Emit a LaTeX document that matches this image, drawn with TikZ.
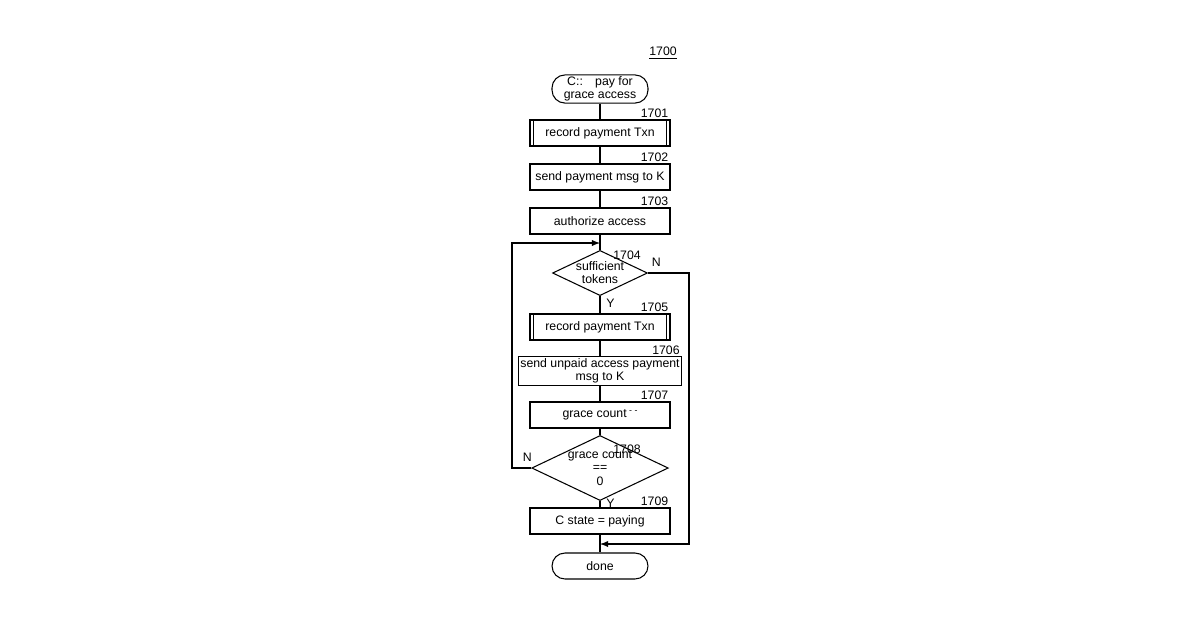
\documentclass[tikz,border=0pt]{standalone}
\usepackage{fontspec}
\setmainfont{Liberation Sans}
\usetikzlibrary{positioning,shapes.geometric,arrows}

\tikzset{
  txt/.style={font=\fontsize{7}{7.5}\selectfont},
  term/.style={txt,draw,rounded corners=0.26cm,minimum width=1.92cm,minimum height=0.52cm,align=center,inner sep=1pt},
  proc/.style={txt,draw,minimum width=2.8cm,minimum height=0.52cm,align=center,inner sep=1pt},
  dec/.style={txt,draw,diamond,aspect=2.1,minimum width=1.76cm,minimum height=0.84cm,align=center,inner sep=0pt},
  ref/.style={txt,anchor=south east,inner sep=1pt}
}

\begin{document}
\begin{tikzpicture}[x=0.02cm,y=-0.02cm,line width=0.6pt]
\useasboundingbox (0,0) rectangle (1200,630);

\node[txt] (fig) at (663,53) {\underline{1700}};

\node[term] (start) at (600,89) {C::\quad pay for\\grace access};
\node[proc] (s1) at (600,133) {record payment Txn};
\draw (s1.north west) ++(4,0) -- ++(0,26);
\draw (s1.north east) ++(-4,0) -- ++(0,26);
\node[proc] (s2) at (600,177) {send payment msg to K};
\node[proc] (s3) at (600,221) {authorize access};
\node[dec] (d1) at (600,273) {sufficient\\tokens};
\node[proc] (s5) at (600,327) {record payment Txn};
\draw (s5.north west) ++(4,0) -- ++(0,26);
\draw (s5.north east) ++(-4,0) -- ++(0,26);
\node[proc] (s6) at (600,371) {send unpaid access payment\\msg to K};
\node[proc] (s7) at (600,415) {grace count\raisebox{0.6ex}{\tiny{} - -}};
\node[dec] (d2) at (600,468) {grace count\\==\\0};
\node[proc] (s9) at (600,521) {C state = paying};
\node[term] (done) at (600,566) {done};

\node[ref] at (s1.north east) {1701};
\node[ref] at (s2.north east) {1702};
\node[ref] at (s3.north east) {1703};
\node[ref] at (643,262) {1704};
\node[ref] at (s5.north east) {1705};
\node[ref] at (s6.north east) {1706};
\node[ref] at (s7.north east) {1707};
\node[ref] at (643,456) {1708};
\node[ref] at (s9.north east) {1709};

\coordinate (loop) at (600,243);
\coordinate (join) at (600,544);

\draw (start) -- (s1);
\draw (s1) -- (s2);
\draw (s2) -- (s3);
\draw (s3) -- (d1);
\draw (d1) -- node[txt,right,pos=0.4]{Y} (s5);
\draw (s5) -- (s6);
\draw (s6) -- (s7);
\draw (s7) -- (d2);
\draw (d2) -- node[txt,right,pos=0.4]{Y} (s9);
\draw (s9) -- (done);
\draw[->,>=latex] (d1.east) -- node[txt,above,pos=0.2]{N} (689,273) |- (join);
\draw[->,>=latex] (d2.west) -- node[txt,above,pos=0.2]{N} (512,468) |- (loop);
\end{tikzpicture}
\end{document}
